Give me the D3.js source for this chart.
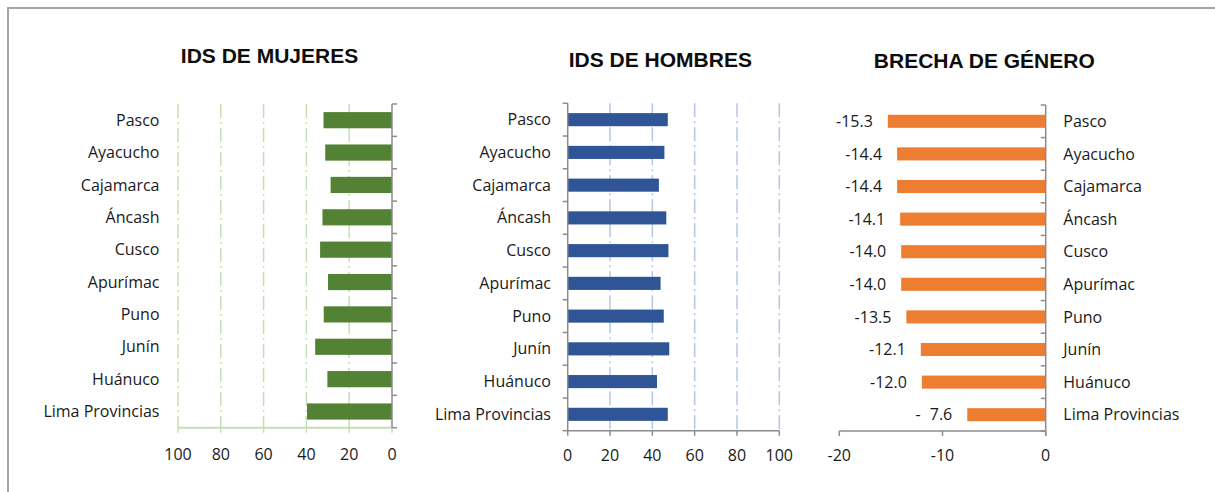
<!DOCTYPE html>
<html>
<head>
<meta charset="utf-8">
<script src="https://cdn.jsdelivr.net/npm/d3@7"></script>
<style>
  html, body { margin: 0; padding: 0; background: #fff; }
  svg { display: block; }
  .lbl { font-family: "Open Sans", "Noto Sans", sans-serif; font-size: 16px; fill: #1a1a1a; }
  .ttl { font-family: "Liberation Sans", Arial, sans-serif; font-weight: bold; font-size: 21px; fill: #0d0d0d; }
</style>
</head>
<body>
<script>
// ---- data ----
const categories = ["Pasco", "Ayacucho", "Cajamarca", "Áncash", "Cusco", "Apurímac", "Puno", "Junín", "Huánuco", "Lima Provincias"];
const womenIDS = [32.0, 31.2, 28.7, 32.5, 33.6, 29.9, 31.9, 35.9, 30.2, 39.7];
const menIDS   = [47.3, 45.7, 43.1, 46.6, 47.6, 43.9, 45.4, 48.0, 42.2, 47.3];
const genderGap = [-15.3, -14.4, -14.4, -14.1, -14.0, -14.0, -13.5, -12.1, -12.0, -7.6];
const idsTicks = [0, 20, 40, 60, 80, 100];
const gapTicks = [-20, -10, 0];
const titles = ["IDS DE MUJERES", "IDS DE HOMBRES", "BRECHA DE GÉNERO"];

const W = 1215, H = 492;
const svg = d3.select("body").append("svg").attr("width", W).attr("height", H);

// outer border
svg.append("rect").attr("x", 8).attr("y", 8).attr("width", W).attr("height", H)
  .attr("fill", "none").attr("stroke", "#a6a6a6").attr("stroke-width", 2);

const axisGray = "#8c8c8c";
const dashDot = "14,4,2,4";

function categoryBoundaries(y) {
  const step = y.step();
  const y0 = y.range()[0];
  return d3.range(categories.length + 1).map(i => y0 + i * step);
}

// ---------- Panel 1: women ----------
{
  const x = d3.scaleLinear().domain([0, 100]).range([392, 178]);
  const y = d3.scaleBand().domain(categories).range([104, 427.7]).paddingInner(0.5).paddingOuter(0.25);
  const g = svg.append("g");
  const [yTop, yBot] = y.range();
  // gridlines
  g.selectAll(".grid").data(idsTicks.filter(d => d > 0)).join("line")
    .attr("x1", d => x(d)).attr("x2", d => x(d)).attr("y1", yTop).attr("y2", yBot)
    .attr("stroke", "#c5e0b4").attr("stroke-width", 1.5).attr("stroke-dasharray", dashDot);
  // bars
  g.selectAll(".bar").data(categories).join("rect")
    .attr("x", (d, i) => x(womenIDS[i])).attr("y", d => y(d))
    .attr("width", (d, i) => x(0) - x(womenIDS[i])).attr("height", y.bandwidth())
    .attr("fill", "#548235");
  // bottom axis (green)
  g.append("line").attr("x1", x(100)).attr("x2", x(0)).attr("y1", yBot).attr("y2", yBot)
    .attr("stroke", "#c5e0b4").attr("stroke-width", 2);
  g.selectAll(".xt").data(idsTicks).join("line")
    .attr("x1", d => x(d)).attr("x2", d => x(d)).attr("y1", yBot).attr("y2", yBot + 5)
    .attr("stroke", "#c5e0b4").attr("stroke-width", 1.5);
  g.selectAll(".xl").data(idsTicks).join("text").attr("class", "lbl")
    .attr("x", d => x(d)).attr("y", 460).attr("text-anchor", "middle").text(d => d);
  // y axis at 0 with ticks to the right
  g.append("line").attr("x1", x(0)).attr("x2", x(0)).attr("y1", yTop).attr("y2", yBot)
    .attr("stroke", axisGray).attr("stroke-width", 1.5);
  g.selectAll(".yt").data(categoryBoundaries(y)).join("line")
    .attr("x1", x(0)).attr("x2", x(0) + 5).attr("y1", d => d).attr("y2", d => d)
    .attr("stroke", axisGray).attr("stroke-width", 1.5);
  // category labels
  g.selectAll(".cl").data(categories).join("text").attr("class", "lbl")
    .attr("x", 159.5).attr("y", d => y(d) + y.bandwidth() / 2).attr("dy", "0.35em")
    .attr("text-anchor", "end").text(d => d);
  g.append("text").attr("class", "ttl").attr("x", 269.5).attr("y", 63.3)
    .attr("text-anchor", "middle").text(titles[0]);
}

// ---------- Panel 2: men ----------
{
  const x = d3.scaleLinear().domain([0, 100]).range([567.7, 779.3]);
  const y = d3.scaleBand().domain(categories).range([103.3, 430.7]).paddingInner(0.6).paddingOuter(0.3);
  const g = svg.append("g");
  const [yTop, yBot] = y.range();
  g.selectAll(".grid").data(idsTicks.filter(d => d > 0)).join("line")
    .attr("x1", d => x(d)).attr("x2", d => x(d)).attr("y1", yTop).attr("y2", yBot)
    .attr("stroke", "#b4c7e7").attr("stroke-width", 1.5).attr("stroke-dasharray", dashDot);
  g.selectAll(".bar").data(categories).join("rect")
    .attr("x", x(0)).attr("y", d => y(d))
    .attr("width", (d, i) => x(menIDS[i]) - x(0)).attr("height", y.bandwidth())
    .attr("fill", "#2f5597");
  g.append("line").attr("x1", x(0)).attr("x2", x(100)).attr("y1", yBot).attr("y2", yBot)
    .attr("stroke", axisGray).attr("stroke-width", 1.5);
  g.selectAll(".xt").data(idsTicks).join("line")
    .attr("x1", d => x(d)).attr("x2", d => x(d)).attr("y1", yBot).attr("y2", yBot + 5)
    .attr("stroke", axisGray).attr("stroke-width", 1.5);
  g.selectAll(".xl").data(idsTicks).join("text").attr("class", "lbl")
    .attr("x", d => x(d)).attr("y", 461).attr("text-anchor", "middle").text(d => d);
  g.append("line").attr("x1", x(0)).attr("x2", x(0)).attr("y1", yTop).attr("y2", yBot)
    .attr("stroke", axisGray).attr("stroke-width", 1.5);
  g.selectAll(".yt").data(categoryBoundaries(y)).join("line")
    .attr("x1", x(0) - 5).attr("x2", x(0)).attr("y1", d => d).attr("y2", d => d)
    .attr("stroke", axisGray).attr("stroke-width", 1.5);
  g.selectAll(".cl").data(categories).join("text").attr("class", "lbl")
    .attr("x", 551).attr("y", d => y(d) + y.bandwidth() / 2).attr("dy", "0.35em")
    .attr("text-anchor", "end").text(d => d);
  g.append("text").attr("class", "ttl").attr("x", 660.3).attr("y", 67.3)
    .attr("text-anchor", "middle").text(titles[1]);
}

// ---------- Panel 3: gap ----------
{
  const x = d3.scaleLinear().domain([-20, 0]).range([839.3, 1045.7]);
  const y = d3.scaleBand().domain(categories).range([105, 431]).paddingInner(0.6).paddingOuter(0.3);
  const g = svg.append("g");
  const [yTop, yBot] = y.range();
  g.selectAll(".bar").data(categories).join("rect")
    .attr("x", (d, i) => x(genderGap[i])).attr("y", d => y(d))
    .attr("width", (d, i) => x(0) - x(genderGap[i])).attr("height", y.bandwidth())
    .attr("fill", "#ed7d31");
  g.append("line").attr("x1", x(-20)).attr("x2", x(0)).attr("y1", yBot).attr("y2", yBot)
    .attr("stroke", axisGray).attr("stroke-width", 1.5);
  g.selectAll(".xt").data(gapTicks).join("line")
    .attr("x1", d => x(d)).attr("x2", d => x(d)).attr("y1", yBot).attr("y2", yBot + 5)
    .attr("stroke", axisGray).attr("stroke-width", 1.5);
  g.selectAll(".xl").data(gapTicks).join("text").attr("class", "lbl")
    .attr("x", d => x(d)).attr("y", 461).attr("text-anchor", "middle").text(d => d);
  g.append("line").attr("x1", x(0)).attr("x2", x(0)).attr("y1", yTop).attr("y2", yBot + 5)
    .attr("stroke", axisGray).attr("stroke-width", 1.5);
  g.selectAll(".yt").data(categoryBoundaries(y)).join("line")
    .attr("x1", x(0) - 5).attr("x2", x(0)).attr("y1", d => d).attr("y2", d => d)
    .attr("stroke", axisGray).attr("stroke-width", 1.5);
  g.selectAll(".cl").data(categories).join("text").attr("class", "lbl")
    .attr("x", 1063.3).attr("y", d => y(d) + y.bandwidth() / 2).attr("dy", "0.35em")
    .attr("text-anchor", "start").text(d => d);
  const fmt = v => Math.abs(v) < 10 ? "-\u2007" + Math.abs(v).toFixed(1) : "-" + Math.abs(v).toFixed(1);
  g.selectAll(".vl").data(categories).join("text").attr("class", "lbl")
    .attr("x", (d, i) => x(genderGap[i]) - 15).attr("y", d => y(d) + y.bandwidth() / 2).attr("dy", "0.35em")
    .attr("text-anchor", "end").text((d, i) => fmt(genderGap[i]));
  g.append("text").attr("class", "ttl").attr("x", 984.3).attr("y", 67.7)
    .attr("text-anchor", "middle").text(titles[2]);
}
</script>
</body>
</html>
